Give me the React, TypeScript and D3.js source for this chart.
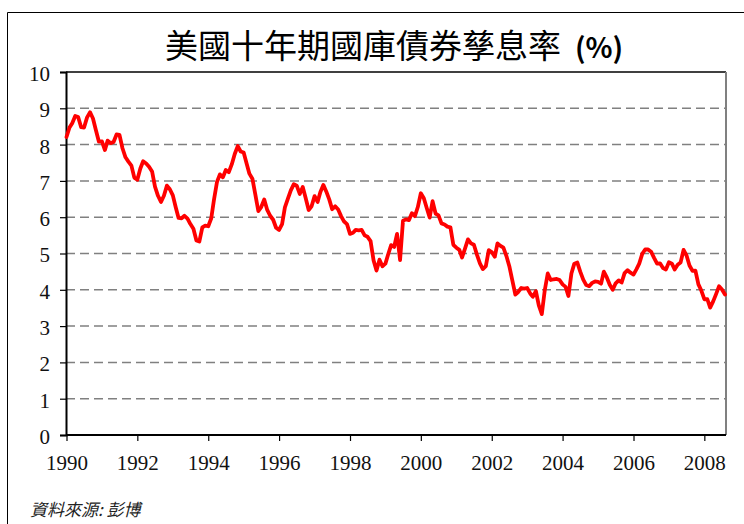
import { useEffect, useRef } from "react"
import * as d3 from "d3"

// monthly 10-year US treasury yield (%), Jan 1990 - Aug 2008
const startMonth = "1990-01"
const yields = [
  8.21, 8.47, 8.59, 8.79, 8.76, 8.48, 8.47, 8.75, 8.89, 8.72, 8.39, 8.08,
  8.09, 7.85, 8.11, 8.04, 8.07, 8.28, 8.27, 7.9, 7.65, 7.53, 7.42, 7.09,
  7.03, 7.34, 7.54, 7.48, 7.39, 7.26, 6.84, 6.59, 6.42, 6.59, 6.87, 6.77,
  6.6, 6.26, 5.98, 5.97, 6.04, 5.96, 5.81, 5.68, 5.36, 5.33, 5.72, 5.77,
  5.75, 5.97, 6.48, 6.97, 7.18, 7.1, 7.3, 7.24, 7.46, 7.74, 7.96, 7.81,
  7.78, 7.47, 7.2, 7.06, 6.63, 6.17, 6.28, 6.49, 6.2, 6.04, 5.93, 5.71,
  5.65, 5.81, 6.27, 6.51, 6.74, 6.91, 6.87, 6.64, 6.83, 6.53, 6.2, 6.3,
  6.58, 6.42, 6.69, 6.89, 6.71, 6.49, 6.22, 6.3, 6.21, 6.03, 5.88, 5.81,
  5.54, 5.57, 5.65, 5.64, 5.65, 5.5, 5.46, 5.34, 4.81, 4.53, 4.83, 4.65,
  4.72, 5.0, 5.23, 5.18, 5.54, 4.82, 5.9, 5.94, 5.92, 6.11, 6.03, 6.28,
  6.66, 6.52, 6.26, 5.99, 6.44, 6.1, 6.05, 5.83, 5.8, 5.74, 5.72, 5.24,
  5.16, 5.1, 4.89, 5.14, 5.39, 5.28, 5.24, 4.97, 4.73, 4.57, 4.65, 5.09,
  5.04, 4.91, 5.28, 5.21, 5.16, 4.93, 4.65, 4.26, 3.87, 3.94, 4.05, 4.03,
  4.05, 3.9, 3.81, 3.96, 3.57, 3.33, 3.98, 4.45, 4.27, 4.29, 4.3, 4.27,
  4.15, 4.08, 3.83, 4.45, 4.72, 4.75, 4.5, 4.28, 4.13, 4.1, 4.19, 4.23,
  4.22, 4.17, 4.5, 4.34, 4.14, 4.0, 4.18, 4.26, 4.2, 4.46, 4.54, 4.47,
  4.42, 4.57, 4.72, 4.99, 5.11, 5.11, 5.05, 4.88, 4.72, 4.73, 4.6, 4.56,
  4.76, 4.72, 4.56, 4.69, 4.75, 5.1, 4.95, 4.67, 4.52, 4.53, 4.15, 3.98,
  3.74, 3.74, 3.51, 3.68, 3.88, 4.1, 4.01, 3.87,
]
const yTicks = [0, 1, 2, 3, 4, 5, 6, 7, 8, 9, 10]
const xTickYears = [1990, 1992, 1994, 1996, 1998, 2000, 2002, 2004, 2006, 2008]

const title = "美國十年期國庫債券孳息率"
const titleUnit = "(%)"
const source = "資料來源: 彭博"

export default function App() {
  const svgRef = useRef<SVGSVGElement>(null)

  useEffect(() => {
    if (!svgRef.current) return
    const root = d3.select(svgRef.current)
    root.selectAll("*").remove()

    const W = 744
    const H = 524
    const plot = { left: 66, right: 726, top: 72, bottom: 435 }

    const parse = d3.timeParse("%Y-%m")
    const t0 = parse(startMonth) as Date
    const data = yields.map((v, i) => ({ date: d3.timeMonth.offset(t0, i), value: v }))

    const x = d3
      .scaleTime()
      .domain([t0, data[data.length - 1].date])
      .range([plot.left + 0.5, plot.right - 1])
    const y = d3.scaleLinear().domain([0, 10]).range([plot.bottom, plot.top])

    root.attr("width", W).attr("height", H)
    root.append("rect").attr("width", W).attr("height", H).attr("fill", "#fff")

    // outer frame
    root
      .append("path")
      .attr("d", `M7.5,${H + 5} V12.5 H${W + 5}`)
      .attr("fill", "none")
      .attr("stroke", "#000")
      .attr("stroke-width", 1)

    // title
    const t = root
      .append("text")
      .attr("x", 394)
      .attr("y", 58)
      .attr("text-anchor", "middle")
      .attr("font-family", "'Noto Sans CJK TC', 'Noto Sans CJK SC', sans-serif")
      .attr("font-size", 33)
      .attr("fill", "#000")
    t.append("tspan").text(title)
    t.append("tspan").attr("font-size", 28).attr("font-weight", "bold").attr("dx", 14).text(titleUnit)

    // grid lines
    root
      .append("g")
      .selectAll("line")
      .data(yTicks.filter((d) => d > 0 && d < 10))
      .enter()
      .append("line")
      .attr("x1", plot.left)
      .attr("x2", plot.right)
      .attr("y1", (d) => y(d))
      .attr("y2", (d) => y(d))
      .attr("stroke", "#808080")
      .attr("stroke-width", 1.5)
      .attr("stroke-dasharray", "9,5")

    // plot border: top black, right gray
    root
      .append("line")
      .attr("x1", plot.left)
      .attr("x2", plot.right)
      .attr("y1", y(10))
      .attr("y2", y(10))
      .attr("stroke", "#000")
      .attr("stroke-width", 1.5)
    root
      .append("line")
      .attr("x1", plot.right)
      .attr("x2", plot.right)
      .attr("y1", y(10))
      .attr("y2", y(0))
      .attr("stroke", "#808080")
      .attr("stroke-width", 2)

    const font = "'Liberation Serif', 'Times New Roman', serif"

    // y axis
    const yAxis = root
      .append("g")
      .attr("transform", `translate(${plot.left},0)`)
      .call(d3.axisLeft(y).tickValues(yTicks).tickSize(6).tickPadding(10).tickFormat(d3.format("d")))
    yAxis.select(".domain").attr("stroke", "#000").attr("stroke-width", 2)
    yAxis.selectAll(".tick line").attr("stroke", "#000").attr("stroke-width", 1.2)
    yAxis
      .selectAll("text")
      .attr("font-family", font)
      .attr("font-size", 21)
      .attr("fill", "#111")
      .attr("dy", "0.4em")

    // x axis
    const xAxis = root
      .append("g")
      .attr("transform", `translate(0,${plot.bottom})`)
      .call(
        d3
          .axisBottom(x)
          .tickValues(xTickYears.map((yr) => new Date(yr, 0, 1)))
          .tickSize(6)
          .tickPadding(14)
          .tickSizeOuter(0)
          .tickFormat(d3.timeFormat("%Y") as any),
      )
    xAxis.select(".domain").attr("d", `M${plot.left},0H${plot.right}`).attr("stroke", "#000").attr("stroke-width", 2)
    xAxis.selectAll(".tick line").attr("stroke", "#000").attr("stroke-width", 1.2)
    xAxis.selectAll("text").attr("font-family", font).attr("font-size", 21).attr("fill", "#111")

    // yield line
    const line = d3
      .line<{ date: Date; value: number }>()
      .x((d) => x(d.date))
      .y((d) => y(d.value))

    root
      .append("path")
      .datum(data)
      .attr("fill", "none")
      .attr("stroke", "#ff0000")
      .attr("stroke-width", 3.8)
      .attr("stroke-linejoin", "round")
      .attr("stroke-linecap", "round")
      .attr("d", line)

    // source note
    root
      .append("text")
      .attr("x", 30)
      .attr("y", 516)
      .attr("font-family", "'Noto Sans CJK TC', sans-serif")
      .attr("font-size", 17)
      .attr("font-style", "italic")
      .attr("fill", "#222")
      .text(source)
  }, [])

  return (
    <div style={{ position: "absolute", left: 0, top: 0 }}>
      <svg ref={svgRef} width={744} height={524}></svg>
    </div>
  )
}
